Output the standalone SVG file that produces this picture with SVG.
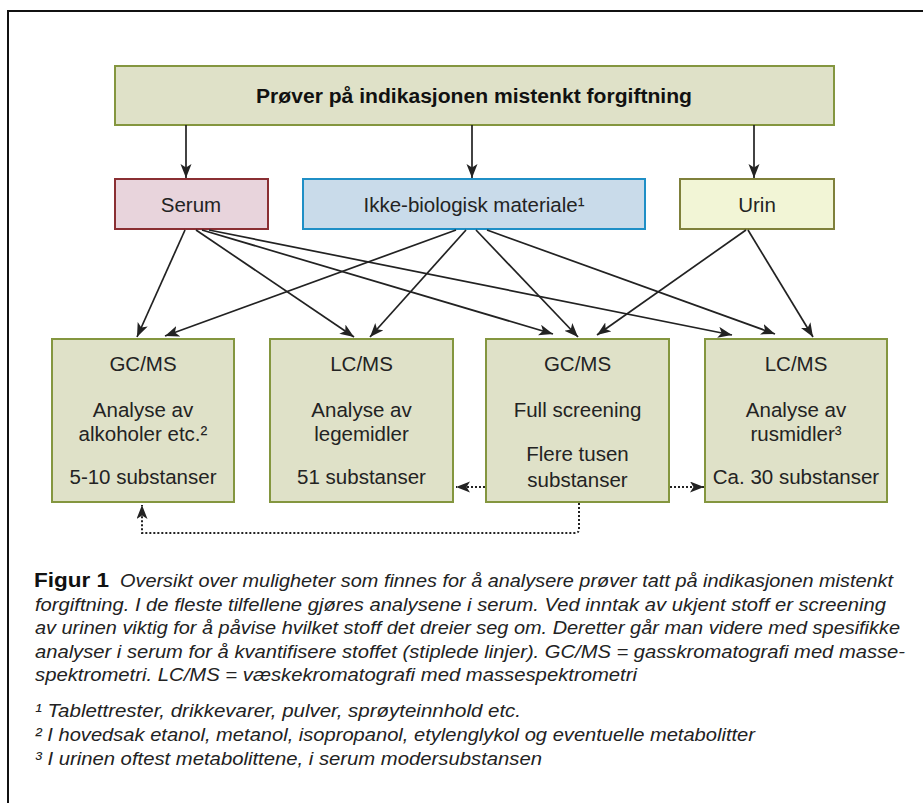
<svg xmlns="http://www.w3.org/2000/svg" width="923" height="803" viewBox="0 0 923 803">
<style>
.box{stroke-width:2}
.main{fill:#dfe1c8;stroke:#84963f}
.t{font-family:"Liberation Sans",Arial,sans-serif;font-size:20.5px;fill:#232323;text-anchor:middle}
.title{font-family:"Liberation Sans",Arial,sans-serif;font-size:20px;font-weight:bold;fill:#111;text-anchor:middle}
.cap{font-family:"Liberation Sans",Arial,sans-serif;font-size:18.5px;font-style:italic;fill:#222}
.capb{font-family:"Liberation Sans",Arial,sans-serif;font-size:20px;font-weight:bold;fill:#111}
.arr{stroke:#222;stroke-width:1.7;fill:none;marker-end:url(#ah)}
.dot{stroke:#222;stroke-width:2;fill:none;stroke-dasharray:2 2;marker-end:url(#ah)}
</style>
<defs>
<marker id="ah" markerUnits="userSpaceOnUse" markerWidth="15" markerHeight="12" refX="14" refY="5.5" orient="auto">
<path d="M0,0 L14,5.5 L0,11 L3.5,5.5 Z" fill="#222"/>
</marker>
</defs>
<rect width="923" height="803" fill="#fff"/>
<path d="M8,803 V11 H923" fill="none" stroke="#111" stroke-width="2"/>

<g id="top">
<rect class="box main" x="115" y="66" width="719" height="59"/>
<text class="title" x="474" y="103" textLength="436" lengthAdjust="spacingAndGlyphs">Prøver på indikasjonen mistenkt forgiftning</text>
</g>

<g id="serum">
<rect class="box" x="115" y="179" width="153" height="50" fill="#e8d4dc" stroke="#8a2f33"/>
<text class="t" x="191" y="212">Serum</text>
</g>
<g id="ikke">
<rect class="box" x="303" y="179" width="342" height="50" fill="#c9dbea" stroke="#1f8fc6"/>
<text class="t" x="474" y="212">Ikke-biologisk materiale¹</text>
</g>
<g id="urin">
<rect class="box" x="680" y="179" width="154" height="50" fill="#f2f5d6" stroke="#7f803b"/>
<text class="t" x="757" y="212">Urin</text>
</g>

<g id="gcms1">
<rect class="box main" x="52" y="339" width="182" height="163"/>
<text class="t" x="143" y="370.5">GC/MS</text>
<text class="t" x="143" y="416.5">Analyse av</text>
<text class="t" x="143" y="441">alkoholer etc.²</text>
<text class="t" x="143" y="483.5">5-10 substanser</text>
</g>
<g id="lcms1">
<rect class="box main" x="270" y="339" width="183" height="163"/>
<text class="t" x="361.5" y="370.5">LC/MS</text>
<text class="t" x="361.5" y="416.5">Analyse av</text>
<text class="t" x="361.5" y="441">legemidler</text>
<text class="t" x="361.5" y="483.5">51 substanser</text>
</g>
<g id="gcms2">
<rect class="box main" x="486" y="339" width="183" height="163"/>
<text class="t" x="577.5" y="370.5">GC/MS</text>
<text class="t" x="577.5" y="416.5">Full screening</text>
<text class="t" x="577.5" y="461">Flere tusen</text>
<text class="t" x="577.5" y="486.5">substanser</text>
</g>
<g id="lcms2">
<rect class="box main" x="705" y="339" width="182" height="163"/>
<text class="t" x="796" y="370.5">LC/MS</text>
<text class="t" x="796" y="416.5">Analyse av</text>
<text class="t" x="796" y="441">rusmidler³</text>
<text class="t" x="796" y="483.5">Ca. 30 substanser</text>
</g>

<g id="connectors">
<line class="arr" x1="186" y1="125" x2="186" y2="178"/>
<line class="arr" x1="472" y1="125" x2="472" y2="178"/>
<line class="arr" x1="754" y1="125" x2="754" y2="178"/>
<line class="arr" x1="185" y1="230" x2="137" y2="337"/>
<line class="arr" x1="196" y1="230" x2="354" y2="337"/>
<line class="arr" x1="202" y1="230" x2="553" y2="334"/>
<line class="arr" x1="209" y1="230" x2="732" y2="335"/>
<line class="arr" x1="456" y1="230" x2="165" y2="336"/>
<line class="arr" x1="466" y1="230" x2="370" y2="337"/>
<line class="arr" x1="476" y1="230" x2="578" y2="337"/>
<line class="arr" x1="487" y1="230" x2="775" y2="334"/>
<line class="arr" x1="746" y1="230" x2="597" y2="335"/>
<line class="arr" x1="748" y1="230" x2="813" y2="337"/>
<line class="dot" x1="485" y1="487" x2="456" y2="487"/>
<line class="dot" x1="670" y1="487" x2="704" y2="487"/>
<path class="dot" d="M579,503 V529 Q579,533 575,533 H142 V505"/>
</g>

<g id="caption">
<text class="capb" x="34" y="587" textLength="75" lengthAdjust="spacingAndGlyphs">Figur 1</text>
<text class="cap" x="120" y="587" textLength="773" lengthAdjust="spacingAndGlyphs">Oversikt over muligheter som finnes for å analysere prøver tatt på indikasjonen mistenkt</text>
<text class="cap" x="35" y="610.5" textLength="851" lengthAdjust="spacingAndGlyphs">forgiftning. I de fleste tilfellene gjøres analysene i serum. Ved inntak av ukjent stoff er screening</text>
<text class="cap" x="35" y="634" textLength="865" lengthAdjust="spacingAndGlyphs">av urinen viktig for å påvise hvilket stoff det dreier seg om. Deretter går man videre med spesifikke</text>
<text class="cap" x="35" y="657.5" textLength="870" lengthAdjust="spacingAndGlyphs">analyser i serum for å kvantifisere stoffet (stiplede linjer). GC/MS = gasskromatografi med masse-</text>
<text class="cap" x="35" y="681" textLength="602" lengthAdjust="spacingAndGlyphs">spektrometri. LC/MS = væskekromatografi med massespektrometri</text>
<text class="cap" x="35" y="717" textLength="486" lengthAdjust="spacingAndGlyphs">¹ Tablettrester, drikkevarer, pulver, sprøyteinnhold etc.</text>
<text class="cap" x="35" y="741" textLength="720" lengthAdjust="spacingAndGlyphs">² I hovedsak etanol, metanol, isopropanol, etylenglykol og eventuelle metabolitter</text>
<text class="cap" x="35" y="765" textLength="507" lengthAdjust="spacingAndGlyphs">³ I urinen oftest metabolittene, i serum modersubstansen</text>
</g>
</svg>
